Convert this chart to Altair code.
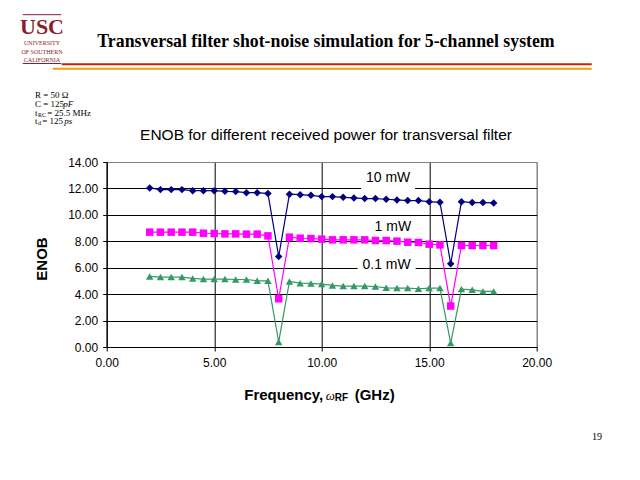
import altair as alt
import pandas as pd

# ---------------- data ----------------
freq = [2.0, 2.5, 3.0, 3.5, 4.0, 4.5, 5.0, 5.5, 6.0, 6.5, 7.0, 7.5, 8.0, 8.5,
        9.0, 9.5, 10.0, 10.5, 11.0, 11.5, 12.0, 12.5, 13.0, 13.5, 14.0, 14.5,
        15.0, 15.5, 16.0, 16.5, 17.0, 17.5, 18.0]
enob_10mw = [12.04, 11.91, 11.91, 11.91, 11.83, 11.83, 11.83, 11.78, 11.76, 11.68,
             11.68, 11.61, 6.85, 11.56, 11.53, 11.48, 11.38, 11.38, 11.33, 11.28,
             11.23, 11.23, 11.18, 11.13, 11.08, 11.08, 11.00, 10.95, 6.30, 11.00,
             10.93, 10.93, 10.90]
enob_1mw = [8.69, 8.69, 8.69, 8.69, 8.69, 8.61, 8.59, 8.56, 8.56, 8.54, 8.54, 8.41,
            3.65, 8.31, 8.23, 8.21, 8.16, 8.11, 8.11, 8.11, 8.11, 8.06, 8.06, 8.01,
            7.93, 7.91, 7.78, 7.73, 3.10, 7.68, 7.68, 7.68, 7.68]
enob_01mw = [5.34, 5.29, 5.29, 5.29, 5.19, 5.14, 5.14, 5.14, 5.11, 5.11, 5.01, 5.01,
             0.38, 4.96, 4.83, 4.81, 4.76, 4.66, 4.61, 4.61, 4.61, 4.58, 4.48, 4.46,
             4.46, 4.41, 4.46, 4.46, 0.30, 4.38, 4.33, 4.21, 4.21]
series_names = ["10 mW", "1 mW", "0.1 mW"]
x_ticks = [0, 5, 10, 15, 20]
y_ticks = [0, 2, 4, 6, 8, 10, 12, 14]
# annotation anchor points (data units)
label_x = [13.09, 13.31, 13.02]
label_y = [12.77, 9.10, 6.19]

# ---------------- styles ----------------
series_colors = ["#000080", "#FF00FF", "#339966"]
series_shapes = ["diamond", "square", "triangle-up"]
box_widths = [54, 44, 58]
box_heights = [22, 16, 16]
SANS = "Liberation Sans"
SERIF = "Liberation Serif"

rows = []
for name, vals in zip(series_names, [enob_10mw, enob_1mw, enob_01mw]):
    for f, v in zip(freq, vals):
        rows.append({"series": name, "freq": f, "enob": v})
df = pd.DataFrame(rows)
labels = pd.DataFrame({"series": series_names, "freq": label_x, "enob": label_y})

xscale = alt.Scale(domain=[0, 20], nice=False, zero=False)
yscale = alt.Scale(domain=[0, 14], nice=False, zero=False)
cscale = alt.Scale(domain=series_names, range=series_colors)
sscale = alt.Scale(domain=series_names, range=series_shapes)

x_axis = alt.Axis(values=x_ticks, format=".2f", title=None, grid=True, labelFlush=False,
                  gridColor={"condition": {"test": "datum.value === 20", "value": "#808080"}, "value": "black"},
                  gridOpacity=1, gridWidth=1, domainColor="black", domainWidth=1,
                  tickColor="black", tickSize=4, labelPadding=6,
                  labelFont=SANS, labelFontSize=12, labelColor="black")
y_axis = alt.Axis(values=y_ticks, format=".2f", title=None, grid=True, labelFlush=False,
                  gridColor={"condition": {"test": "datum.value === 14", "value": "#808080"}, "value": "black"},
                  gridOpacity=1, gridWidth=1, domainColor="black", domainWidth=1,
                  tickColor="black", tickSize=4, labelPadding=5,
                  labelFont=SANS, labelFontSize=12, labelColor="black")

X = alt.X("freq:Q", scale=xscale, axis=x_axis)
Y = alt.Y("enob:Q", scale=yscale, axis=y_axis)

base = alt.Chart(df)
lines = base.mark_line(strokeWidth=1.2).encode(
    x=X, y=Y,
    color=alt.Color("series:N", scale=cscale, legend=None),
    detail="series:N",
)
points = base.mark_point(filled=True, opacity=1, size=56).encode(
    x=X, y=Y,
    color=alt.Color("series:N", scale=cscale, legend=None),
    shape=alt.Shape("series:N", scale=sscale, legend=None),
)

label_layers = []
for i, name in enumerate(series_names):
    one = labels[labels["series"] == name]
    label_layers.append(
        alt.Chart(one).mark_rect(color="white", width=box_widths[i], height=box_heights[i]).encode(
            x=X, y=Y))
    label_layers.append(
        alt.Chart(one).mark_text(font=SANS, fontSize=14, color="black", baseline="middle").encode(
            x=X, y=Y, text="series:N"))

one_row = pd.DataFrame({"k": [0]})


def txt(text, x, y, size, font=SANS, weight="normal", style="normal", align="left",
        color="black", angle=0, baseline="middle"):
    return alt.Chart(one_row).mark_text(
        text=text, font=font, fontSize=size, fontWeight=weight, fontStyle=style,
        align=align, color=color, angle=angle, baseline=baseline
    ).encode(x=alt.value(x), y=alt.value(y))


def hline(x1, x2, y, color, width):
    return alt.Chart(one_row).mark_rule(color=color, strokeWidth=width).encode(
        x=alt.value(x1), x2=alt.value(x2), y=alt.value(y))


MAROON = "#8C1D2E"
deco = [
    # USC logo
    hline(-84, -45.5, -147.3, MAROON, 1),
    hline(-84, -45.5, -98.5, MAROON, 1),
    txt("USC", -64.7, -135, 22, font=SERIF, weight="bold", align="center", color=MAROON),
    txt("UNIVERSITY", -64.7, -119.3, 6, font=SERIF, align="center", color=MAROON),
    txt("OF SOUTHERN", -64.7, -110.5, 6, font=SERIF, align="center", color=MAROON),
    txt("CALIFORNIA", -64.7, -102.3, 6, font=SERIF, align="center", color=MAROON),
    # slide title and rules
    txt("Transversal filter shot-noise simulation for 5-channel system", 219.3, -120, 17.8,
        font=SERIF, weight="bold", align="center"),
    hline(-45, 485, -97.7, "#CC2200", 2),
    hline(-54, 485, -93.3, "#FF9900", 2),
    # parameter block
    txt("R = 50 \u03a9", -71.7, -67, 9, font=SERIF),
    txt("C = 125", -71.7, -58.5, 9, font=SERIF),
    txt("pF", -43.5, -58.5, 9, font=SERIF, style="italic"),
    txt("t", -71.7, -49.5, 9, font=SERIF),
    txt("RC", -68.7, -47.5, 6, font=SERIF),
    txt("= 25.5 MHz", -59.5, -49.5, 9, font=SERIF),
    txt("t", -71.7, -41, 9, font=SERIF),
    txt("d", -68.7, -39, 6, font=SERIF),
    txt("= 125", -64.5, -41, 9, font=SERIF),
    txt("ps", -42.5, -41, 9, font=SERIF, style="italic"),
    # chart title
    txt("ENOB for different received power for transversal filter", 219.3, -27, 15.5, align="center"),
    # axis titles
    txt("ENOB", -65, 97, 15, weight="bold", align="center", angle=270),
    txt("Frequency,", 216.5, 233, 15, weight="bold", align="right"),
    txt("\u03c9", 219, 234, 13, font=SERIF, style="italic"),
    txt("RF", 228, 236, 10, weight="bold"),
    txt("(GHz)", 248, 233, 15, weight="bold"),
    # page number
    txt("19", 490.3, 275, 10, font=SERIF, align="center"),
]

chart = alt.layer(lines, points, *label_layers, *deco).properties(
    width=430, height=185, autosize="none",
    padding={"left": 98.7, "top": 154, "right": 95.3, "bottom": 125},
    background="white",
).configure_view(stroke="#808080", strokeWidth=1)

chart.save("out.html", embed_options={"renderer": "svg", "actions": False})
